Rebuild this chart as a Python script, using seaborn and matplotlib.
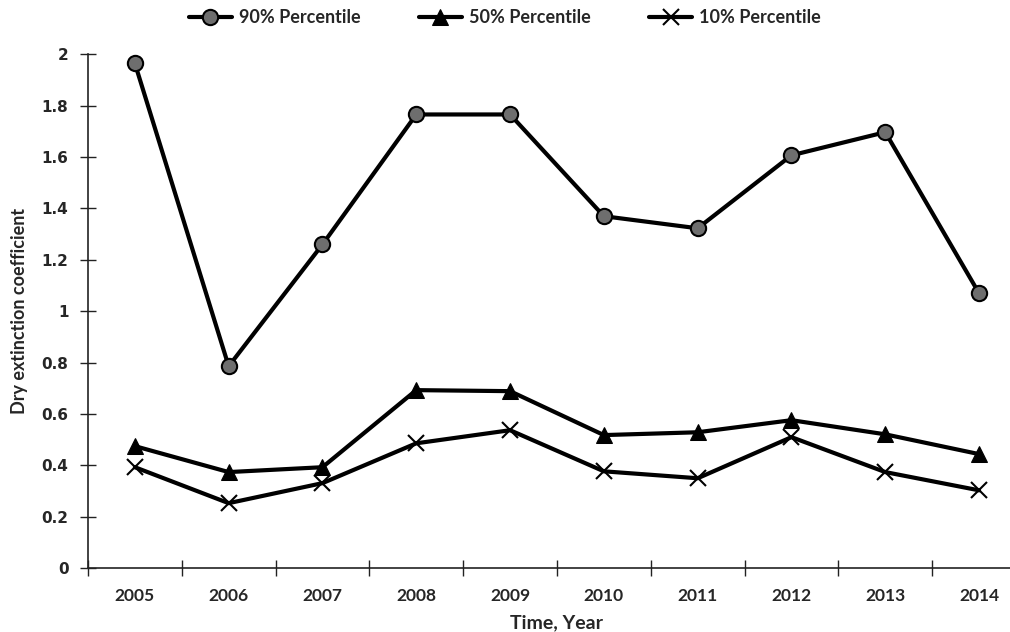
import numpy as np
import pandas as pd
import seaborn as sns
import matplotlib.pyplot as plt
from matplotlib.ticker import FixedLocator

years = ["2005", "2006", "2007", "2008", "2009", "2010", "2011", "2012", "2013", "2014"]
p90 = [1.965, 0.786, 1.26, 1.766, 1.766, 1.37, 1.323, 1.607, 1.697, 1.07]
p50 = [0.475, 0.374, 0.393, 0.693, 0.689, 0.518, 0.529, 0.576, 0.521, 0.444]
p10 = [0.393, 0.253, 0.331, 0.486, 0.537, 0.377, 0.350, 0.510, 0.374, 0.303]
series_names = ["90% Percentile", "50% Percentile", "10% Percentile"]

df = pd.DataFrame({
    "pos": list(range(len(years))) * 3,
    "value": p90 + p50 + p10,
    "series": [s for s in series_names for _ in years],
})

sns.set_style("ticks")
plt.rcParams['font.family'] = ['Lato', 'DejaVu Sans']

fig = plt.figure(figsize=(10.1, 6.32), dpi=100)
ax = fig.add_axes([0.0871, 0.101, 0.9287, 0.813])

styles = {
    "90% Percentile": dict(marker="o", markersize=11, markerfacecolor="#6e6e6e", markeredgecolor="black", markeredgewidth=1.5),
    "50% Percentile": dict(marker="^", markersize=11, markerfacecolor="black", markeredgecolor="black"),
    "10% Percentile": dict(marker="x", markersize=11, markeredgecolor="black", markeredgewidth=1.5),
}
for name in series_names:
    sns.lineplot(data=df[df["series"] == name], x="pos", y="value", ax=ax,
                 color="black", linewidth=3, label=name, **styles[name])

ax.set_xlim(-0.5, 9.5)
ax.set_ylim(0, 2)
ax.set_yticks(np.arange(0, 2.01, 0.2))
ax.set_yticklabels(["0", "0.2", "0.4", "0.6", "0.8", "1", "1.2", "1.4", "1.6", "1.8", "2"],
                   fontfamily="DejaVu Sans", fontweight="bold", fontsize=11)
ax.set_xticks(range(len(years)))
ax.set_xticklabels(years, fontweight="bold", fontsize=12.5)
ax.xaxis.set_minor_locator(FixedLocator(np.arange(-0.5, 10, 1)))
ax.tick_params(axis="x", which="major", length=0, pad=14)
ax.tick_params(axis="x", which="minor", direction="inout", length=12, width=1, color="#222222")
ax.tick_params(axis="y", which="major", direction="inout", length=12, width=1, color="#222222", pad=8)

for side in ["top", "right"]:
    ax.spines[side].set_visible(False)
for side in ["left", "bottom"]:
    ax.spines[side].set_linewidth(1.2)
    ax.spines[side].set_color("#222222")

ax.set_xlabel("Time, Year", fontweight="bold", fontsize=14, labelpad=8)
ax.set_ylabel("Dry extinction coefficient", fontweight="bold", fontsize=13, labelpad=10)

ax.legend(loc="center", bbox_to_anchor=(0.5, 0.972), bbox_transform=fig.transFigure,
          ncol=3, frameon=False, prop={"weight": "bold", "size": 13},
          handlelength=2.4, columnspacing=3.2, handletextpad=0.4)

fig.savefig("out.png", dpi=100)
